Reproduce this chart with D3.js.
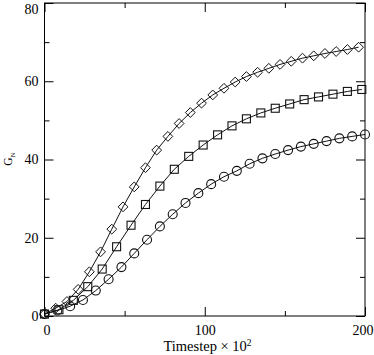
<!DOCTYPE html>
<html>
<head>
<meta charset="utf-8">
<script src="https://cdn.jsdelivr.net/npm/d3@7"></script>
<style>
  body { margin: 0; background: #fff; }
  svg { display: block; font-family: "Liberation Serif", "DejaVu Serif", serif; }
</style>
</head>
<body>
<div id="chart"></div>
<script>
// diamonds, every 7 timesteps
const diamondX = [0, 7, 14, 21, 28, 35, 42, 49, 56, 63, 70, 77, 84, 91, 98, 105, 112, 119, 126, 133, 140, 147, 154, 161, 168, 175, 182, 189, 196];
const diamondY = [0.5, 2.0, 3.7, 6.8, 11.3, 16.4, 22.2, 27.9, 33.0, 37.9, 42.4, 45.9, 49.2, 52.0, 54.4, 56.5, 58.2, 59.8, 61.2, 62.3, 63.3, 64.3, 65.1, 65.9, 66.5, 67.1, 67.6, 68.1, 68.7];

// squares, every 9 timesteps
const squareX = [0, 9, 18, 27, 36, 45, 54, 63, 72, 81, 90, 99, 108, 117, 126, 135, 144, 153, 162, 171, 180, 189, 198];
const squareY = [0.5, 1.6, 4.0, 7.5, 12.0, 17.7, 23.2, 28.5, 33.2, 37.5, 40.8, 43.7, 46.3, 48.6, 50.4, 51.9, 53.1, 54.2, 55.3, 56.0, 56.7, 57.4, 57.9];

// circles, every 8 timesteps
const circleX = [0, 8, 16, 24, 32, 40, 48, 56, 64, 72, 80, 88, 96, 104, 112, 120, 128, 136, 144, 152, 160, 168, 176, 184, 192, 200];
const circleY = [0.5, 1.4, 2.5, 4.1, 6.5, 9.4, 12.5, 16.0, 19.5, 22.9, 26.0, 28.9, 31.4, 33.7, 35.6, 37.1, 38.9, 40.3, 41.4, 42.4, 43.3, 44.0, 44.7, 45.4, 45.9, 46.4];

const xMajor = [0, 100, 200];
const xMinor = [50, 150];
const yMajor = [0, 20, 40, 60, 80];
const yMinor = [10, 30, 50, 70];

const width = 374;
const height = 355;
const margin = { top: 3, right: 9, bottom: 39, left: 44.5 };
const w = width - margin.left - margin.right;
const h = height - margin.top - margin.bottom;

const svg = d3.select('#chart').append('svg')
    .attr('width', width)
    .attr('height', height);

const g = svg.append('g')
    .attr('transform', `translate(${margin.left},${margin.top})`);

const x = d3.scaleLinear().domain([0, 200]).range([0, w]);
const y = d3.scaleLinear().domain([0, 80]).range([h, 0]);

// frame
g.append('rect')
    .attr('width', w)
    .attr('height', h)
    .attr('fill', 'none')
    .attr('stroke', '#000')
    .attr('stroke-width', 1);

function tickAxis(axis, vals, size, labels, pad) {
    return axis.tickValues(vals).tickSize(-size).tickSizeOuter(0).tickPadding(pad)
        .tickFormat(labels ? d3.format('d') : '');
}

const axes = [
    [d3.axisBottom(x), xMajor, 9, true, `translate(0,${h})`, 9],
    [d3.axisBottom(x), xMinor, 5, false, `translate(0,${h})`, 9],
    [d3.axisTop(x), xMajor, 9, false, 'translate(0,0)', 5],
    [d3.axisTop(x), xMinor, 5, false, 'translate(0,0)', 5],
    [d3.axisLeft(y), yMajor, 9, true, 'translate(0,0)', 6],
    [d3.axisLeft(y), yMinor, 5, false, 'translate(0,0)', 6],
    [d3.axisRight(y), yMajor, 9, false, `translate(${w},0)`, 5],
    [d3.axisRight(y), yMinor, 5, false, `translate(${w},0)`, 5]
];

axes.forEach(([axis, vals, size, labels, tr, pad]) => {
    const a = g.append('g')
        .attr('transform', tr)
        .call(tickAxis(axis, vals, size, labels, pad));
    a.select('.domain').remove();
    a.selectAll('line').attr('stroke', '#000');
    a.selectAll('text')
        .attr('fill', '#000')
        .style('font-family', '"Liberation Serif", serif')
        .style('font-size', '14px');
});

// nudge end labels inward like the original
g.selectAll('.tick text').filter(d => d === 200 || d === 0).each(function(d) {
    const t = d3.select(this);
    if (t.attr('y') !== null && +t.attr('y') > 0) {
        t.attr('x', d === 0 ? 2 : -2.5);
    }
});
g.selectAll('.tick text').filter(d => d === 80).attr('dy', '0.72em');

const series = [
    { xs: diamondX, ys: diamondY, shape: 'diamond' },
    { xs: squareX, ys: squareY, shape: 'square' },
    { xs: circleX, ys: circleY, shape: 'circle' }
];

const line = d3.line()
    .x(d => x(d[0]))
    .y(d => y(d[1]));

series.forEach(s => {
    const pts = s.xs.map((v, i) => [v, s.ys[i]]);

    g.append('path')
        .datum(pts)
        .attr('d', line)
        .attr('fill', 'none')
        .attr('stroke', '#111')
        .attr('stroke-width', 1);

    const marks = g.selectAll(null)
        .data(pts)
        .enter();

    if (s.shape === 'circle') {
        marks.append('circle')
            .attr('cx', d => x(d[0]))
            .attr('cy', d => y(d[1]))
            .attr('r', 4.5)
            .attr('fill', 'none')
            .attr('stroke', '#111')
            .attr('stroke-width', 1.1);
    } else if (s.shape === 'square') {
        marks.append('rect')
            .attr('x', d => x(d[0]) - 4)
            .attr('y', d => y(d[1]) - 4)
            .attr('width', 8)
            .attr('height', 8)
            .attr('fill', 'none')
            .attr('stroke', '#111')
            .attr('stroke-width', 1.1);
    } else {
        marks.append('path')
            .attr('d', d => {
                const cx = x(d[0]), cy = y(d[1]), r = 4.9;
                return `M${cx},${cy - r}L${cx + r},${cy}L${cx},${cy + r}L${cx - r},${cy}Z`;
            })
            .attr('fill', 'none')
            .attr('stroke', '#111')
            .attr('stroke-width', 1);
    }
});

// axis titles
svg.append('text')
    .attr('x', 207.5)
    .attr('y', 351)
    .attr('text-anchor', 'middle')
    .style('font-size', '14.5px')
    .html('Timestep × 10<tspan dy="-5" font-size="9.5">2</tspan>');

svg.append('text')
    .attr('transform', 'translate(12,159) rotate(-90)')
    .attr('text-anchor', 'middle')
    .style('font-size', '11.5px')
    .html('G<tspan dy="3" font-size="7">N</tspan>');
</script>
</body>
</html>
